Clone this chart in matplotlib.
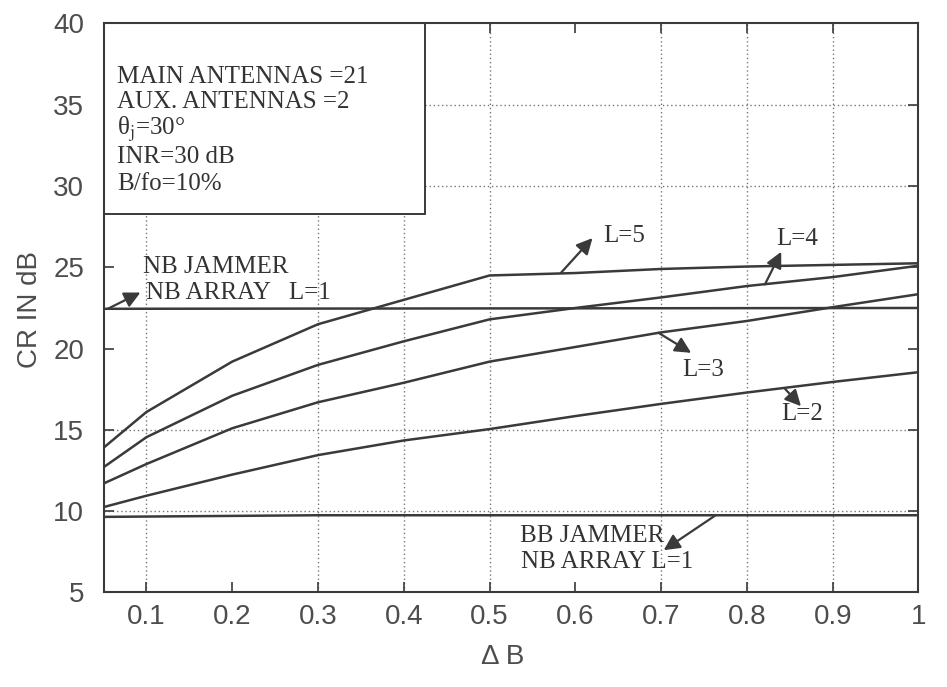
import matplotlib
matplotlib.use('Agg')
import matplotlib.pyplot as plt
from matplotlib.patches import Rectangle

plt.rcParams['mathtext.fontset'] = 'stix'

# ---------------- data ----------------
delta_b = [0.05, 0.1, 0.2, 0.3, 0.4, 0.5, 0.6, 0.7, 0.8, 0.9, 1.0]
cr_L5 = [13.9, 16.1, 19.2, 21.5, 23.0, 24.5, 24.65, 24.9, 25.05, 25.15, 25.25]
cr_L4 = [12.7, 14.55, 17.1, 19.0, 20.45, 21.8, 22.5, 23.15, 23.85, 24.4, 25.1]
cr_L3 = [11.7, 12.9, 15.1, 16.7, 17.9, 19.2, 20.1, 21.0, 21.7, 22.55, 23.35]
cr_L2 = [10.25, 10.95, 12.25, 13.45, 14.35, 15.05, 15.85, 16.6, 17.3, 17.95, 18.55]

nb_x = [0.05, 1.0]
nb_jammer_nb_array = [22.45, 22.5]
bb_x = [0.05, 0.3, 1.0]
bb_jammer_nb_array = [9.65, 9.75, 9.75]

x_ticks = [0.1, 0.2, 0.3, 0.4, 0.5, 0.6, 0.7, 0.8, 0.9, 1.0]
x_tick_labels = ['0.1', '0.2', '0.3', '0.4', '0.5', '0.6', '0.7', '0.8', '0.9', '1']
y_ticks = [5, 10, 15, 20, 25, 30, 35, 40]
x_grid = [0.1, 0.3, 0.4, 0.5, 0.7, 0.8, 0.9]
y_grid = [10, 15, 30, 35]

box_lines = ['MAIN ANTENNAS =21', 'AUX. ANTENNAS =2', 'θ$_\\mathrm{j}$=30°',
             'INR=30 dB', 'B/fo=10%']
box_line_y = [36.7, 35.15, 33.5, 31.8, 30.1]

# label lines, text positions, arrow start (on curve), arrow head
annotations = [
    (['NB JAMMER', 'NB ARRAY   L=1'], [(0.096, 25.05), (0.099, 23.45)], (0.055, 22.45), (0.093, 23.45)),
    (['L=5'], [(0.632, 26.95)], (0.583, 24.65), (0.62, 26.8)),
    (['L=4'], [(0.834, 26.75)], (0.821, 23.95), (0.84, 25.96)),
    (['L=3'], [(0.725, 18.7)], (0.697, 20.97), (0.735, 19.74)),
    (['L=2'], [(0.84, 16.0)], (0.844, 17.55), (0.863, 16.46)),
    (['BB JAMMER', 'NB ARRAY L=1'], [(0.535, 8.5), (0.537, 6.87)], (0.763, 9.73), (0.703, 7.6)),
]

# ---------------- figure ----------------
line_c = '#3a3a3a'
text_c = '#333333'
tick_c = '#4d4d4d'
serif = 'Liberation Serif'
sans = 'Liberation Sans'

fig = plt.figure(figsize=(9.47, 6.87), dpi=100)
ax = fig.add_axes([0.1093, 0.1376, 0.8606, 0.8282])
ax.set_xlim(0.05, 1.0)
ax.set_ylim(5, 40)

for gx in x_grid:
    ax.axvline(gx, color='#777777', lw=1.0, ls=(0, (1, 2)), zorder=1)
for gy in y_grid:
    ax.axhline(gy, color='#777777', lw=1.0, ls=(0, (1, 2)), zorder=1)

for ys in (cr_L5, cr_L4, cr_L3, cr_L2):
    ax.plot(delta_b, ys, color=line_c, lw=1.8, zorder=3)
ax.plot(nb_x, nb_jammer_nb_array, color=line_c, lw=1.8, zorder=3)
ax.plot(bb_x, bb_jammer_nb_array, color=line_c, lw=1.8, zorder=3)

# parameter box
ax.add_patch(Rectangle((0.05, 28.3), 0.375, 11.7, facecolor='white',
                       edgecolor=line_c, lw=1.4, zorder=2))
for t, yy in zip(box_lines, box_line_y):
    ax.text(0.066, yy, t, fontsize=18, family=serif,
            color=text_c, va='center', ha='left', zorder=4)

for labels, tpos, start, head in annotations:
    for lab, (tx, ty) in zip(labels, tpos):
        ax.text(tx, ty, lab, fontsize=18, family=serif,
                color=text_c, va='center', ha='left', zorder=4)
    ax.annotate('', xy=head, xytext=start,
                arrowprops=dict(arrowstyle='-|>', color=line_c, lw=1.6,
                                mutation_scale=24, shrinkA=0, shrinkB=0),
                zorder=5)

ax.set_xticks(x_ticks)
ax.set_xticklabels(x_tick_labels)
ax.set_yticks(y_ticks)
ax.tick_params(direction='in', length=7, width=1.2, top=True, right=True,
               labelsize=20, labelcolor=tick_c, color=line_c)
ax.tick_params(axis='x', pad=8)
ax.tick_params(axis='y', pad=14)
for lab in ax.get_xticklabels() + ax.get_yticklabels():
    lab.set_family(sans)
for sp in ax.spines.values():
    sp.set_color(line_c)
    sp.set_linewidth(1.5)

fig.text(30 / 947, 1 - 310 / 687, 'CR IN dB', rotation=90, fontsize=20,
         family=sans, color=tick_c, ha='center', va='center')
fig.text(503 / 947, 1 - 657 / 687, 'Δ B', fontsize=20,
         family=sans, color=tick_c, ha='center', va='center')

fig.savefig('out.png', dpi=100)
